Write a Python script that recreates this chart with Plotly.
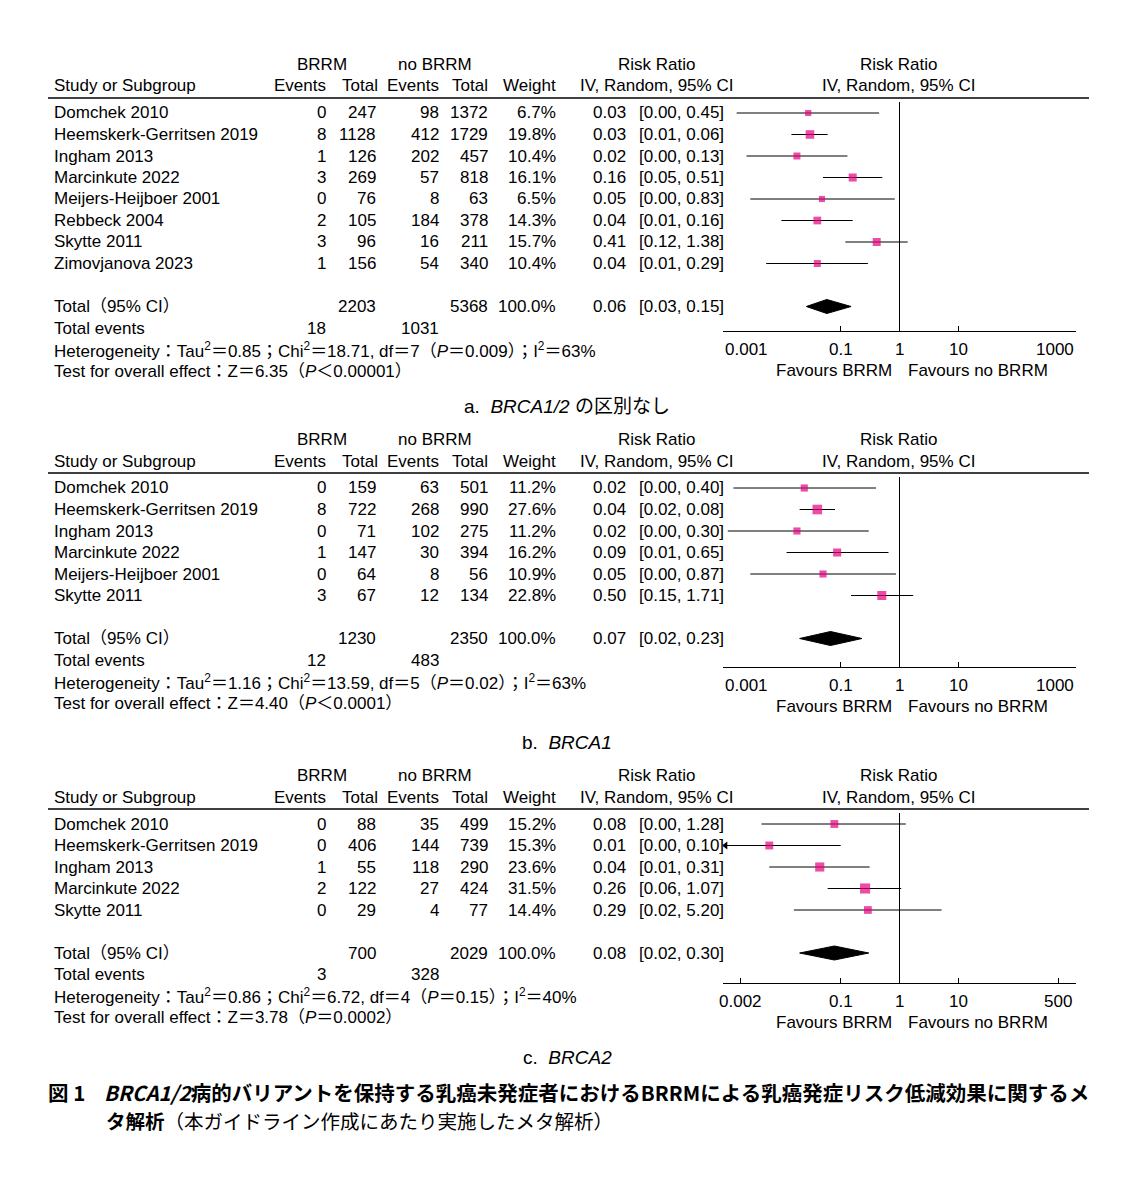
import math
import plotly.graph_objects as go

# ---------------- data ----------------
# Panel a: BRCA1/2 combined
studies_a = ["Domchek 2010", "Heemskerk-Gerritsen 2019", "Ingham 2013", "Marcinkute 2022",
             "Meijers-Heijboer 2001", "Rebbeck 2004", "Skytte 2011", "Zimovjanova 2023"]
brrm_events_a = [0, 8, 1, 3, 0, 2, 3, 1]
brrm_total_a = [247, 1128, 126, 269, 76, 105, 96, 156]
nobrrm_events_a = [98, 412, 202, 57, 8, 184, 16, 54]
nobrrm_total_a = [1372, 1729, 457, 818, 63, 378, 211, 340]
weight_a = [6.7, 19.8, 10.4, 16.1, 6.5, 14.3, 15.7, 10.4]
rr_a = [0.028, 0.030, 0.018, 0.16, 0.048, 0.040, 0.41, 0.040]
lo_a = [0.0017, 0.0145, 0.0025, 0.05, 0.0029, 0.0098, 0.12, 0.0054]
hi_a = [0.45, 0.06, 0.13, 0.51, 0.83, 0.16, 1.38, 0.29]
total_a = (0.058, 0.026, 0.15)
het_a = ("0.85", "18.71", "7", "0.009", "63")
test_a = ("6.35", "＜0.00001")
ticks_a = [0.001, 0.1, 1, 10, 1000]
ticklabels_a = ["0.001", "0.1", "1", "10", "1000"]

# Panel b: BRCA1
studies_b = ["Domchek 2010", "Heemskerk-Gerritsen 2019", "Ingham 2013", "Marcinkute 2022",
             "Meijers-Heijboer 2001", "Skytte 2011"]
brrm_events_b = [0, 8, 0, 1, 0, 3]
brrm_total_b = [159, 722, 71, 147, 64, 67]
nobrrm_events_b = [63, 268, 102, 30, 8, 12]
nobrrm_total_b = [501, 990, 275, 394, 56, 134]
weight_b = [11.2, 27.6, 11.2, 16.2, 10.9, 22.8]
rr_b = [0.024, 0.040, 0.018, 0.087, 0.050, 0.50]
lo_b = [0.0015, 0.020, 0.0012, 0.012, 0.0029, 0.15]
hi_b = [0.40, 0.08, 0.30, 0.65, 0.87, 1.71]
total_b = (0.067, 0.02, 0.23)
het_b = ("1.16", "13.59", "5", "0.02", "63")
test_b = ("4.40", "＜0.0001")
ticks_b = [0.001, 0.1, 1, 10, 1000]
ticklabels_b = ["0.001", "0.1", "1", "10", "1000"]

# Panel c: BRCA2
studies_c = ["Domchek 2010", "Heemskerk-Gerritsen 2019", "Ingham 2013", "Marcinkute 2022", "Skytte 2011"]
brrm_events_c = [0, 0, 1, 2, 0]
brrm_total_c = [88, 406, 55, 122, 29]
nobrrm_events_c = [35, 144, 118, 27, 4]
nobrrm_total_c = [499, 739, 290, 424, 77]
weight_c = [15.2, 15.3, 23.6, 31.5, 14.4]
rr_c = [0.078, 0.0061, 0.044, 0.26, 0.29]
lo_c = [0.0045, 0.0005, 0.0061, 0.06, 0.016]
hi_c = [1.28, 0.10, 0.31, 1.07, 5.20]
total_c = (0.078, 0.02, 0.30)
het_c = ("0.86", "6.72", "4", "0.15", "40")
test_c = ("3.78", "＝0.0002")
ticks_c = [0.002, 0.1, 1, 10, 500]
ticklabels_c = ["0.002", "0.1", "1", "10", "500"]

captions = ["a.\u00a0\u00a0<i>BRCA1/2</i>\u00a0の区別なし", "b.\u00a0\u00a0<i>BRCA1</i>", "c.\u00a0\u00a0<i>BRCA2</i>"]

# ---------------- layout helpers ----------------
W, H = 1141, 1180
ROW = 21.5
FONT = "Liberation Sans, Arial, Noto Sans CJK JP, sans-serif"
CJK = "Noto Sans CJK JP, Liberation Sans, sans-serif"
PINK = "#E2007E"
AX_MIN, AX_MAX = -3.0, 3.0

panels = [
    dict(studies=studies_a, ev1=brrm_events_a, tot1=brrm_total_a, ev2=nobrrm_events_a, tot2=nobrrm_total_a,
         w=weight_a, rr=rr_a, lo=lo_a, hi=hi_a, total=total_a, het=het_a, test=test_a,
         ticks=ticks_a, ticklabels=ticklabels_a, y0=113, vtop=102, axis=331, cap=406, endlabels=True),
    dict(studies=studies_b, ev1=brrm_events_b, tot1=brrm_total_b, ev2=nobrrm_events_b, tot2=nobrrm_total_b,
         w=weight_b, rr=rr_b, lo=lo_b, hi=hi_b, total=total_b, het=het_b, test=test_b,
         ticks=ticks_b, ticklabels=ticklabels_b, y0=488, vtop=477, axis=667, cap=742, endlabels=True),
    dict(studies=studies_c, ev1=brrm_events_c, tot1=brrm_total_c, ev2=nobrrm_events_c, tot2=nobrrm_total_c,
         w=weight_c, rr=rr_c, lo=lo_c, hi=hi_c, total=total_c, het=het_c, test=test_c,
         ticks=ticks_c, ticklabels=ticklabels_c, y0=824, vtop=813, axis=983, cap=1057, endlabels=False),
]

annotations = []
shapes = []


def px(x):
    return x / W


def py(y):
    return 1 - y / H


def txt(x, y, s, anchor="left", size=17, family=FONT, xref="paper"):
    annotations.append(dict(x=x if xref != "paper" else px(x), y=py(y), xref=xref, yref="paper",
                            text=s, showarrow=False, xanchor=anchor, yanchor="middle",
                            font=dict(size=size, family=family, color="black")))


# column anchors (pixels)
C_NAME, C_EV1, C_TOT1, C_EV2, C_TOT2, C_W, C_RR, C_CI = 52, 328, 378, 441, 490, 558, 628, 637

fig = go.Figure()
layout_axes = {}

for k, p in enumerate(panels, start=1):
    xa = "x" if k == 1 else f"x{k}"
    ya = "y" if k == 1 else f"y{k}"
    xname = "xaxis" if k == 1 else f"xaxis{k}"
    yname = "yaxis" if k == 1 else f"yaxis{k}"
    y0 = p["y0"]
    n = len(p["studies"])
    rbot = (p["axis"] - y0) / ROW
    rtop = (p["vtop"] - y0) / ROW

    layout_axes[xname] = dict(type="log", range=[AX_MIN - 0.002, AX_MAX + 0.002], domain=[723 / W, 1076 / W],
                              anchor=ya, showline=True, linecolor="black", linewidth=1,
                              ticks="inside", ticklen=5, tickwidth=1, tickcolor="black",
                              tickvals=p["ticks"], showticklabels=False, showgrid=False,
                              zeroline=False, fixedrange=True)
    layout_axes[yname] = dict(domain=[py(p["axis"]), py(p["vtop"])], range=[rbot, rtop],
                              visible=False, anchor=xa, fixedrange=True)

    rows = list(range(n))
    # CI lines
    lx, ly, arrows_x, arrows_y = [], [], [], []
    xmin = 10 ** AX_MIN
    for i in rows:
        lo = p["lo"][i]
        if lo < xmin:
            lo = xmin * 1.1
            arrows_x.append(lo)
            arrows_y.append(i)
        lx += [lo, p["hi"][i], None]
        ly += [i, i, None]
    fig.add_trace(go.Scatter(x=lx, y=ly, mode="lines", line=dict(color="black", width=1),
                             xaxis=xa, yaxis=ya, hoverinfo="skip", showlegend=False))
    if arrows_x:
        fig.add_trace(go.Scatter(x=arrows_x, y=arrows_y, mode="markers",
                                 marker=dict(symbol="triangle-left", size=7, color="black"),
                                 xaxis=xa, yaxis=ya, hoverinfo="skip", showlegend=False))
    # vertical line of no effect
    fig.add_trace(go.Scatter(x=[1, 1], y=[rtop, rbot], mode="lines", line=dict(color="black", width=1),
                             xaxis=xa, yaxis=ya, hoverinfo="skip", showlegend=False, cliponaxis=False))
    # squares
    sizes = [2.8 + 1.3 * math.sqrt(w) for w in p["w"]]
    fig.add_trace(go.Scatter(x=p["rr"], y=rows, mode="markers",
                             marker=dict(symbol="square", size=sizes, color=PINK, line=dict(width=0)),
                             xaxis=xa, yaxis=ya, hoverinfo="skip", showlegend=False))
    # diamond
    trr, tlo, thi = p["total"]
    trow = n + 1
    hh = 7 / ROW
    fig.add_trace(go.Scatter(x=[tlo, trr, thi, trr, tlo], y=[trow, trow - hh, trow, trow + hh, trow],
                             mode="lines", fill="toself", fillcolor="black",
                             line=dict(color="black", width=1),
                             xaxis=xa, yaxis=ya, hoverinfo="skip", showlegend=False))

    # ---- headers ----
    h1, h2 = y0 - 49, y0 - 27
    txt(322, h1, "BRRM", "center")
    txt(435, h1, "no BRRM", "center")
    txt(656, h1, "Risk Ratio", "center")
    txt(898, h1, "Risk Ratio", "center")
    txt(C_NAME, h2, "Study or Subgroup")
    txt(C_EV1, h2, "Events", "right")
    txt(C_TOT1 + 2, h2, "Total", "right")
    txt(C_EV2, h2, "Events", "right")
    txt(C_TOT2, h2, "Total", "right")
    txt(C_W, h2, "Weight", "right")
    txt(656, h2, "IV, Random, 95% CI", "center")
    txt(898, h2, "IV, Random, 95% CI", "center")
    shapes.append(dict(type="line", xref="paper", yref="paper", x0=px(48), x1=px(1089),
                       y0=py(y0 - 15), y1=py(y0 - 15), line=dict(color="black", width=1.3)))

    # ---- study rows ----
    for i in rows:
        yy = y0 + i * ROW
        txt(C_NAME, yy, p["studies"][i])
        txt(C_EV1, yy, str(p["ev1"][i]), "right")
        txt(C_TOT1, yy, str(p["tot1"][i]), "right")
        txt(C_EV2, yy, str(p["ev2"][i]), "right")
        txt(C_TOT2, yy, str(p["tot2"][i]), "right")
        txt(C_W, yy, f"{p['w'][i]:.1f}%", "right")
        txt(C_RR, yy, f"{p['rr'][i]:.2f}", "right")
        txt(C_CI, yy, f"[{p['lo'][i]:.2f}, {p['hi'][i]:.2f}]", "left")

    # ---- totals ----
    yt = y0 + (n + 1) * ROW
    txt(C_NAME, yt, "Total（95% CI）")
    txt(C_TOT1, yt, str(sum(p["tot1"])), "right")
    txt(C_TOT2, yt, str(sum(p["tot2"])), "right")
    txt(C_W, yt, "100.0%", "right")
    txt(C_RR, yt, f"{trr:.2f}", "right")
    txt(C_CI, yt, f"[{tlo:.2f}, {thi:.2f}]", "left")
    ye = y0 + (n + 2) * ROW
    txt(C_NAME, ye, "Total events")
    txt(C_EV1, ye, str(sum(p["ev1"])), "right")
    txt(C_EV2, ye, str(sum(p["ev2"])), "right")
    tau, chi, df, pv, i2 = p["het"]
    yh = y0 + (n + 3) * ROW
    txt(C_NAME, yh, f"Heterogeneity：Tau<sup>2</sup>＝{tau}；Chi<sup>2</sup>＝{chi}, df＝{df}（<i>P</i>＝{pv}）；I<sup>2</sup>＝{i2}%")
    z, pz = p["test"]
    yz = y0 + (n + 4) * ROW
    txt(C_NAME, yz, f"Test for overall effect：Z＝{z}（<i>P</i>{pz}）")

    # ---- axis tick labels ----
    ylab = p["axis"] + 18
    nt = len(p["ticks"])
    for j, (tv, tl) in enumerate(zip(p["ticks"], p["ticklabels"])):
        anchor = "center"
        if p["endlabels"] and j == 0:
            anchor = "left"
        elif p["endlabels"] and j == nt - 1:
            anchor = "right"
        txt(math.log10(tv), ylab, tl, anchor, xref=xa)
    yf = p["axis"] + 39
    txt(894, yf, "Favours BRRM", "right")
    txt(906, yf, "Favours no BRRM", "left")

    # ---- caption ----
    txt(567, p["cap"], captions[k - 1], "center", size=19, family=FONT)

# figure caption
txt(46, 1092, "<b>図 1</b>", "left", size=20.5, family=CJK)
txt(102, 1092, "<b><i>BRCA1/2</i>病的バリアントを保持する乳癌未発症者におけるBRRMによる乳癌発症リスク低減効果に関するメ</b>",
    "left", size=20.5, family=CJK)
txt(104, 1120, "<b>タ解析</b>（本ガイドライン作成にあたり実施したメタ解析）", "left", size=19.5, family=CJK)

fig.update_layout(width=W, height=H, margin=dict(l=0, r=0, t=0, b=0),
                  paper_bgcolor="white", plot_bgcolor="white",
                  annotations=annotations, shapes=shapes, showlegend=False, **layout_axes)

fig.write_html("out.html", config={"displayModeBar": False})
